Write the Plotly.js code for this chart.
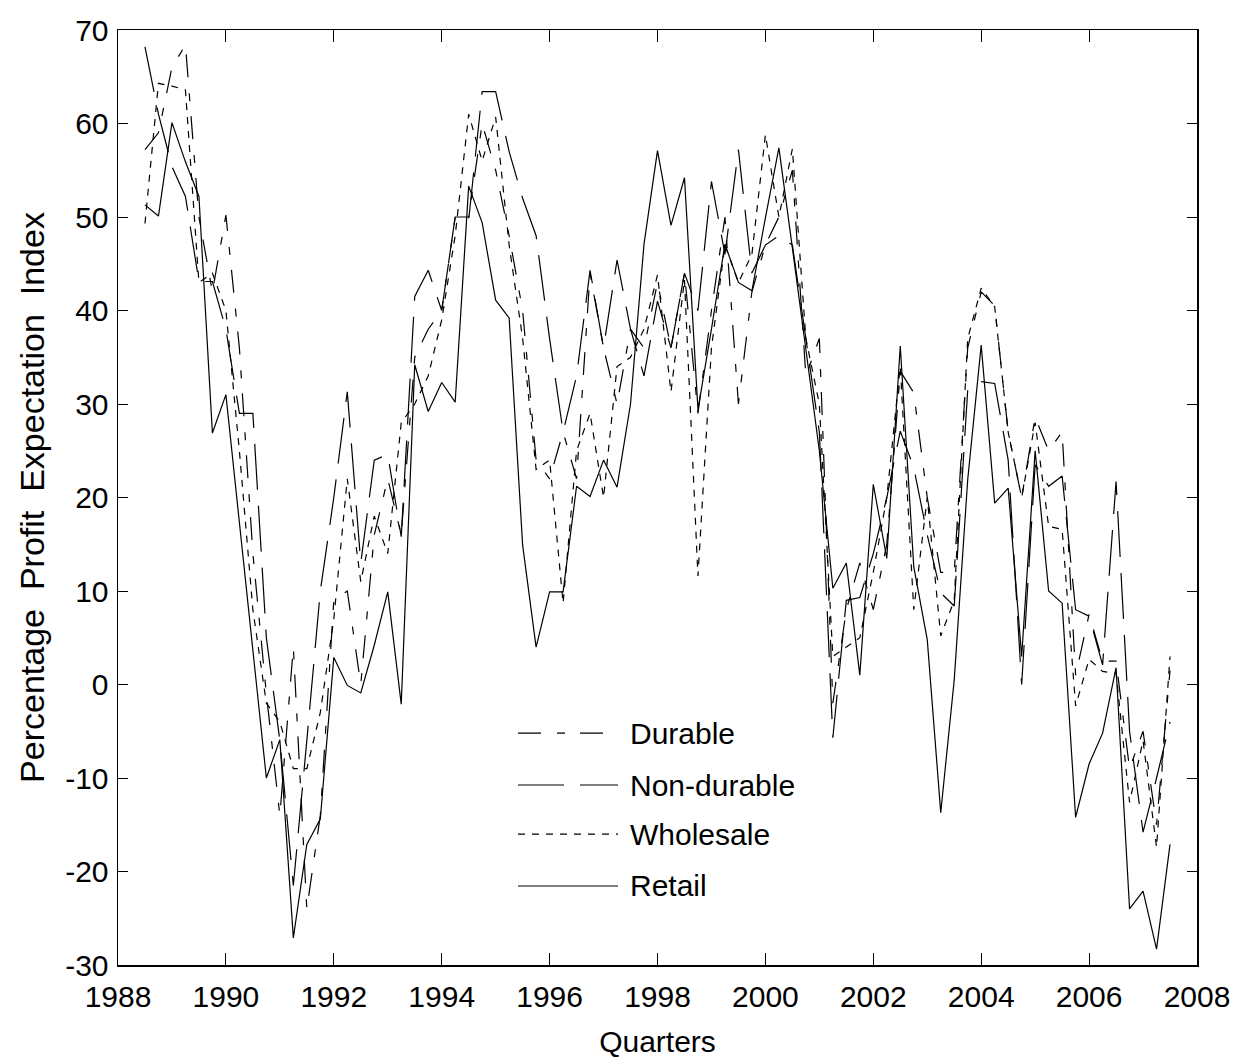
<!DOCTYPE html>
<html>
<head>
<meta charset="utf-8">
<script src="https://cdn.plot.ly/plotly-3.0.1.min.js"></script>
<style>html,body{margin:0;padding:0;background:#fff;}#chart{width:1241px;height:1058px;}</style>
</head>
<body>
<div id="chart"></div>
<script>
// Quarterly observations, 1988.5 .. 2007.5
const startYear = 1988.5;
const nQuarters = 77;
const quarters = Array.from({length: nQuarters}, (_, i) => startYear + 0.25 * i);

const seriesNames = ["Durable", "Non-durable", "Wholesale", "Retail"];

const durable = [57.2, 59, 66, 68.4, 50, 42, 50.2, 36, 14, -1,
  -14, 4, -24, -14, 9, 10, 0, 16, 22, 16,
  35, 38, 40, 50, 50, 60, 55, 48, 40, 24,
  22, 27, 22, 44, 36, 30, 38, 36, 43, 36,
  44, 29, 40, 50, 30, 42, 47, 50, 55, 33,
  37, -2, 8, 13, 8, 15, 33.5, 31.2, 20, 12,
  12, 36, 42, 40.5, 27, 20, 28.6, 25, 27, 1,
  7.5, 2.5, 2.5, -9, -5, -15, 1.5];

const nonDurable = [68.2, 61, 55.4, 52.2, 43.1, 43.1, 38, 29, 29, 5,
  -6, -21.5, -6, 10, 20, 31.3, 13, 24, 24.6, 15.8,
  41.5, 44.3, 40, 50, 49.7, 63.4, 63.4, 57, 52, 48,
  37, 27, 33, 44.3, 36, 45.4, 38, 33, 41, 36,
  44, 40, 53.8, 46, 57.2, 44, 47, 48, 47, 37,
  27, -5.7, 9, 9.3, 14, 20, 27.1, 23.2, 16, 9.8,
  8.4, 31.5, 32.4, 32.2, 24, 0, 23.5, 21.2, 22.3, 8,
  7.3, 2.1, 21.7, -5, -15.8, -10, -4];

const wholesale = [49.3, 64.3, 64, 63.6, 43, 44, 40, 25, 8, -2,
  -4, -9, -9, -3, 7, 22, 11, 18, 14, 28,
  30, 33, 39, 48, 61, 56, 60.7, 47, 37, 23,
  24, 8.7, 25, 29, 20, 34, 35, 38, 43.8, 31.3,
  43.3, 11.6, 36, 47, 43, 46, 58.8, 50, 57.3, 37,
  30, 3, 4, 5, 12, 20, 34, 8, 20, 5.2,
  9, 37, 42.4, 40.4, 27, 20, 28, 16.9, 16.6, -2.3,
  2.7, 1.4, 1.2, -12.6, -6, -17.4, 3];

const retail = [51.3, 50.1, 60.1, 55.9, 52.2, 26.9, 31.0, 17.2, 3.3, -10.0,
  -5.9, -27.1, -17.1, -14.4, 2.9, -0.1, -0.9, 4.2, 9.9, -2.1,
  34.2, 29.2, 32.3, 30.2, 53.3, 49.4, 41.1, 39.2, 14.9, 4.0,
  9.9, 9.9, 21.2, 20.1, 24.0, 21.1, 30.0, 47.1, 57.1, 49.1,
  54.2, 29.4, 38.0, 47.1, 43.0, 42.1, 49.9, 57.4, 46.7, 36.0,
  25.0, 10.3, 13.0, 1.0, 21.4, 13.5, 36.2, 12.6, 4.8, -13.7,
  0.5, 21.9, 36.3, 19.4, 21.0, 3.0, 25.0, 10.0, 8.7, -14.2,
  -8.5, -5.2, 1.8, -24.0, -22.1, -28.3, -17.1];

const xTickVals = [1988, 1990, 1992, 1994, 1996, 1998, 2000, 2002, 2004, 2006, 2008];
const yTickVals = [-30, -20, -10, 0, 10, 20, 30, 40, 50, 60, 70];

const values = [durable, nonDurable, wholesale, retail];
const dashes = ["23px,16px,8px,15px", "46px,16px", "7px,7px", "solid"];

const traces = seriesNames.map((name, k) => ({
  type: "scatter",
  mode: "lines",
  name: name,
  x: quarters,
  y: values[k],
  line: {color: "#000", width: 1.2, dash: dashes[k]},
  showlegend: false
}));

// Legend drawn as layout items (lines + text) inside the plot
const legendRowsY = [0.248, 0.1925, 0.14, 0.0845];
const shapes = [];
const annotations = [];
seriesNames.forEach((name, k) => {
  shapes.push({type: "line", xref: "paper", yref: "paper",
    x0: 0.3707, x1: 0.4634, y0: legendRowsY[k], y1: legendRowsY[k],
    line: {color: "#000", width: 1.2, dash: dashes[k]}});
  annotations.push({xref: "paper", yref: "paper", x: 0.4727, y: legendRowsY[k],
    xanchor: "left", yanchor: "middle", showarrow: false, text: name,
    font: {family: "Liberation Sans, Arial, sans-serif", size: 30, color: "#000"}});
});

const font = {family: "Liberation Sans, Arial, sans-serif", size: 30, color: "#000"};
const yTitleFont = {family: "Liberation Sans, Arial, sans-serif", size: 34, color: "#000"};

const layout = {
  width: 1241, height: 1058,
  paper_bgcolor: "#fff", plot_bgcolor: "#fff",
  margin: {l: 118, r: 44, t: 30, b: 93, pad: 0},
  font: font,
  showlegend: false,
  xaxis: {
    range: [1988, 2008], tickvals: xTickVals, ticktext: xTickVals.map(String),
    ticks: "inside", ticklen: 12, tickwidth: 1, tickcolor: "#000",
    showline: true, linecolor: "#000", linewidth: 1.5, mirror: "ticks",
    showgrid: false, zeroline: false, ticklabelstandoff: 4,
    tickfont: font,
    title: {text: "Quarters", font: font, standoff: 19}
  },
  yaxis: {
    range: [-30, 70], tickvals: yTickVals, ticktext: yTickVals.map(String),
    ticks: "inside", ticklen: 10, tickwidth: 1, tickcolor: "#000",
    showline: true, linecolor: "#000", linewidth: 1.5, mirror: "ticks",
    showgrid: false, zeroline: false, ticklabelstandoff: 2,
    tickfont: font,
    title: {text: "Percentage\u00A0 Profit\u00A0 Expectation\u00A0 Index", font: yTitleFont, standoff: 10}
  },
  shapes: shapes,
  annotations: annotations
};

Plotly.newPlot("chart", traces, layout, {displayModeBar: false, staticPlot: true});
</script>
</body>
</html>
